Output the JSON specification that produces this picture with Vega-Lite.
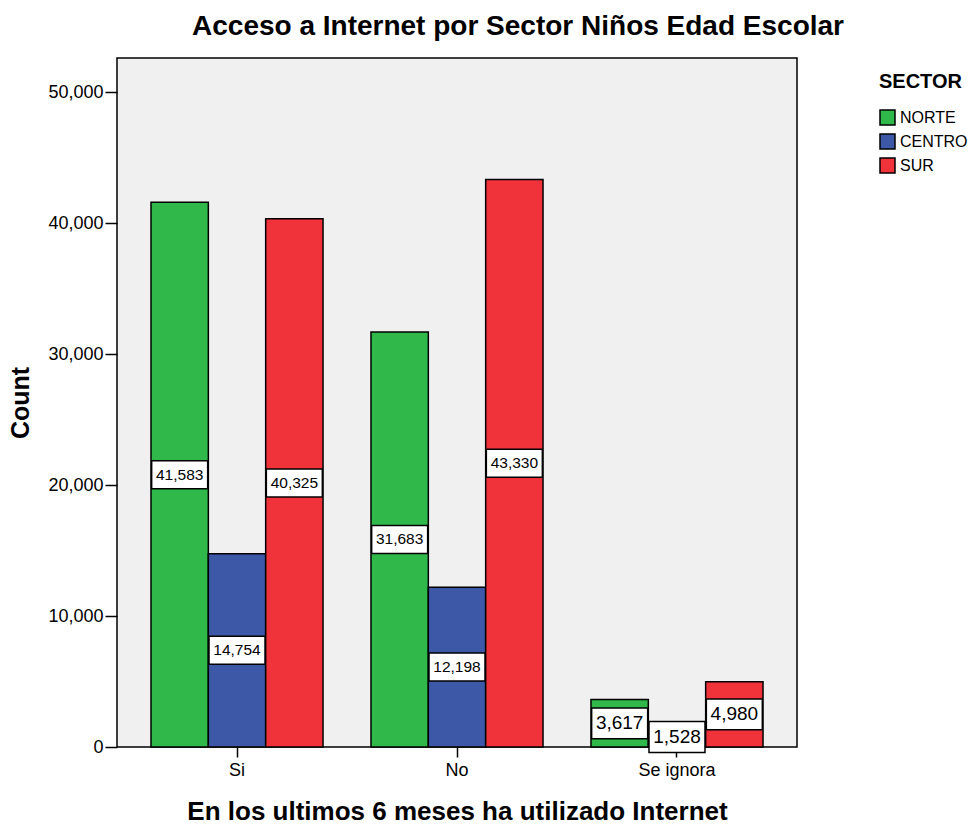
{
  "$schema": "https://vega.github.io/schema/vega-lite/v6.json",
  "autosize": "none",
  "width": 680,
  "height": 689,
  "padding": {"left": 117, "top": 58, "right": 179, "bottom": 78},
  "background": "white",
  "config": {
    "font": "Liberation Sans",
    "view": {"fill": "#f0f0f0", "stroke": "black", "strokeWidth": 1.5}
  },
  "title": {
    "text": "Acceso a Internet por Sector Niños Edad Escolar",
    "font": "Liberation Sans",
    "fontSize": 28,
    "fontWeight": "bold",
    "color": "black",
    "anchor": "middle",
    "frame": "group",
    "dx": 61,
    "offset": 17
  },
  "data": {
    "values": [
      {"uso": "Si", "sector": "NORTE", "count": 41583},
      {"uso": "Si", "sector": "CENTRO", "count": 14754},
      {"uso": "Si", "sector": "SUR", "count": 40325},
      {"uso": "No", "sector": "NORTE", "count": 31683},
      {"uso": "No", "sector": "CENTRO", "count": 12198},
      {"uso": "No", "sector": "SUR", "count": 43330},
      {"uso": "Se ignora", "sector": "NORTE", "count": 3617},
      {"uso": "Se ignora", "sector": "CENTRO", "count": 1528},
      {"uso": "Se ignora", "sector": "SUR", "count": 4980}
    ]
  },
  "encoding": {
    "x": {
      "field": "uso",
      "type": "nominal",
      "sort": ["Si", "No", "Se ignora"],
      "scale": {"paddingInner": 0.218, "paddingOuter": 0.1545},
      "axis": {
        "title": "En los ultimos 6 meses ha utilizado Internet",
        "titleFont": "Liberation Sans",
        "titleFontSize": 26,
        "titleFontWeight": "bold",
        "titleColor": "black",
        "titlePadding": 19,
        "labelAngle": 0,
        "labelFont": "Liberation Sans",
        "labelFontSize": 18,
        "labelColor": "black",
        "labelPadding": 4,
        "tickColor": "black",
        "tickSize": 10,
        "tickWidth": 1.5,
        "domain": false
      }
    },
    "xOffset": {
      "field": "sector",
      "type": "nominal",
      "sort": ["NORTE", "CENTRO", "SUR"],
      "scale": {"paddingInner": 0, "paddingOuter": 0}
    }
  },
  "layer": [
    {
      "mark": {"type": "bar", "stroke": "black", "strokeWidth": 1.5},
      "encoding": {
        "y": {
          "field": "count",
          "type": "quantitative",
          "scale": {"domain": [0, 52600], "nice": false},
          "axis": {
            "title": "Count",
            "titleFont": "Liberation Sans",
            "titleFontSize": 25,
            "titleFontWeight": "bold",
            "titleColor": "black",
            "titlePadding": 14,
            "values": [0, 10000, 20000, 30000, 40000, 50000],
            "labelExpr": "format(datum.value, ',')",
            "grid": false,
            "labelFont": "Liberation Sans",
            "labelFontSize": 18,
            "labelColor": "black",
            "labelPadding": 2,
            "tickColor": "black",
            "tickSize": 12,
            "tickWidth": 1.5,
            "domain": false
          }
        },
        "color": {
          "field": "sector",
          "type": "nominal",
          "scale": {
            "domain": ["NORTE", "CENTRO", "SUR"],
            "range": ["#30b84b", "#3e58a8", "#f0323b"]
          },
          "legend": {
            "title": "SECTOR",
            "orient": "none",
            "legendX": 762,
            "legendY": 14,
            "titleFont": "Liberation Sans",
            "titleFontSize": 20,
            "titleFontWeight": "bold",
            "titleColor": "black",
            "titlePadding": 17,
            "symbolType": "square",
            "symbolSize": 225,
            "symbolStrokeColor": "black",
            "symbolStrokeWidth": 1.5,
            "symbolOpacity": 1,
            "labelFont": "Liberation Sans",
            "labelFontSize": 16,
            "labelColor": "black",
            "labelOffset": 4,
            "rowPadding": 3
          }
        }
      }
    },
    {
      "mark": {
        "type": "point",
        "size": 3136,
        "filled": true,
        "fill": "white",
        "stroke": "black",
        "strokeWidth": 1.5,
        "opacity": 1
      },
      "encoding": {
        "y": {
          "field": "count",
          "type": "quantitative",
          "scale": {"domain": [0, 105200], "nice": false},
          "axis": null
        },
        "shape": {
          "condition": {"test": "datum.uso === 'Se ignora'", "value": "M-1,-0.55H1V0.55H-1Z"},
          "value": "M-1,-0.5H1V0.5H-1Z"
        }
      }
    },
    {
      "mark": {"type": "text", "baseline": "middle", "align": "center", "color": "black", "font": "Liberation Sans"},
      "encoding": {
        "y": {
          "field": "count",
          "type": "quantitative",
          "scale": {"domain": [0, 105200], "nice": false},
          "axis": null
        },
        "text": {"field": "count", "type": "quantitative", "format": ","},
        "size": {
          "condition": {"test": "datum.uso === 'Se ignora'", "value": 19},
          "value": 15.5
        }
      }
    }
  ],
  "resolve": {"scale": {"y": "independent"}}
}
